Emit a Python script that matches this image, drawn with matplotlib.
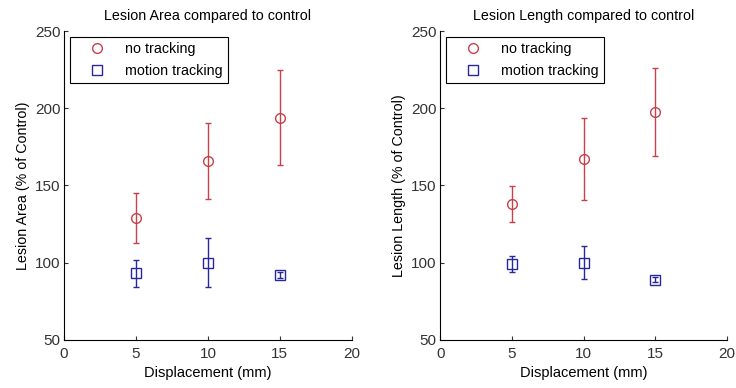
import numpy as np
import matplotlib.pyplot as plt
from matplotlib.lines import Line2D

plt.rcParams["font.family"] = "Liberation Sans"
plt.rcParams["font.size"] = 10
plt.rcParams["xtick.direction"] = 'in'
plt.rcParams["ytick.direction"] = 'in'
plt.rcParams["axes.linewidth"] = 0.8

disp = [5, 10, 15]

area_no = [129, 166, 194]
area_no_err = [16, 24.5, 30.5]
area_mt = [93, 100, 92]
area_mt_err = [9, 16, 2]

len_no = [138, 167, 197.5]
len_no_err = [11.5, 26.5, 28.5]
len_mt = [99, 100, 89]
len_mt_err = [5, 10.5, 1.5]

titles = ["Lesion Area compared to control", "Lesion Length compared to control"]
ylabels = ["Lesion Area (% of Control)", "Lesion Length (% of Control)"]

red = '#c8404c'
blue = '#28289a'

fig = plt.figure(figsize=(7.36, 3.88), dpi=100)
ax1 = fig.add_axes([0.087, 0.124, 0.391, 0.796])
ax2 = fig.add_axes([0.598, 0.124, 0.390, 0.796])

sets = [(ax1, area_no, area_no_err, area_mt, area_mt_err),
        (ax2, len_no, len_no_err, len_mt, len_mt_err)]

for i, (ax, yn, en, ym, em) in enumerate(sets):
    ax.errorbar(disp, yn, en, fmt='o', color=red, mfc='none', markersize=7,
                capsize=2.5, elinewidth=1, mew=1)
    ax.errorbar(disp, ym, em, fmt='s', color=blue, mfc='none', markersize=7,
                capsize=2.5, elinewidth=1, mew=1)
    ax.set_xlim(0, 20)
    ax.set_ylim(50, 250)
    ax.set_xticks([0, 5, 10, 15, 20])
    ax.set_yticks([50, 100, 150, 200, 250])
    ax.spines['top'].set_visible(False)
    ax.spines['right'].set_visible(False)
    ax.tick_params(labelsize=11, length=3, colors='#333333')
    ax.tick_params(axis='x', pad=5)
    ax.tick_params(axis='y', pad=2.5)
    ax.set_title(titles[i], fontsize=10.3, pad=8)
    ax.set_xlabel("Displacement (mm)", fontsize=10.5, labelpad=4)
    ax.set_ylabel(ylabels[i], fontsize=10.3)
    handles = [Line2D([], [], ls='none', marker='o', color=red, mfc='none', markersize=7),
               Line2D([], [], ls='none', marker='s', color=blue, mfc='none', markersize=7)]
    leg = ax.legend(handles, ['no tracking', 'motion tracking'], loc='upper left',
                    fancybox=False, edgecolor='black', fontsize=10.3,
                    handlelength=3.0, handletextpad=0.45, borderpad=0.4,
                    borderaxespad=0.4, framealpha=1)
    leg.get_frame().set_linewidth(0.8)

fig.savefig("out.png", dpi=100)
